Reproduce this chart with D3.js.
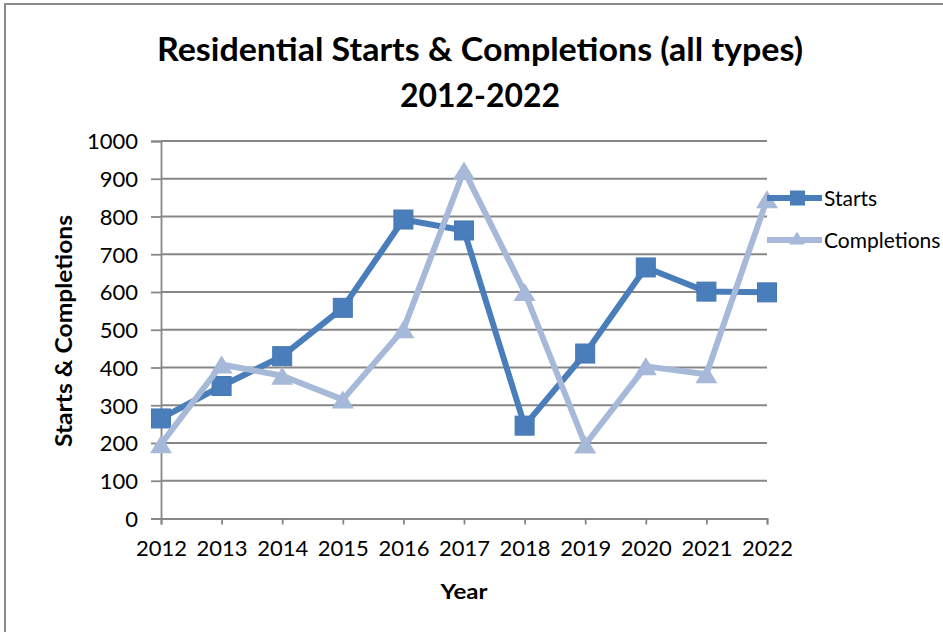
<!DOCTYPE html>
<html>
<head>
<meta charset="utf-8">
<script src="https://cdn.jsdelivr.net/npm/d3@7"></script>
<style>
  html, body { margin: 0; padding: 0; background: #fff; }
  svg { display: block; }
  text { font-family: Lato, "Open Sans", sans-serif; fill: #000; }
</style>
</head>
<body>
<svg id="chart" width="943" height="632"></svg>
<script>
const years = ["2012","2013","2014","2015","2016","2017","2018","2019","2020","2021","2022"];
const starts = [265, 351, 430, 558, 792, 763, 246, 437, 665, 601, 599];
const completions = [197, 408, 378, 315, 501, 922, 600, 196, 403, 382, 846];
const yTicks = [0,100,200,300,400,500,600,700,800,900,1000];
const titleLines = ["Residential Starts & Completions (all types)", "2012-2022"];
const seriesNames = ["Starts", "Completions"];

const svg = d3.select("#chart");
const W = 943, H = 632;
const plot = {left: 161, right: 767, top: 141, bottom: 518.5};
const cStarts = "#4a7ebb", cComp = "#a7b9d9", cGrid = "#878787";

svg.append("rect").attr("x", 0).attr("y", 0).attr("width", W).attr("height", H).attr("fill", "#fff");
svg.append("rect").attr("x", 5).attr("y", 4).attr("width", W + 20).attr("height", H + 20)
  .attr("fill", "none").attr("stroke", "#8a8a8a").attr("stroke-width", 2);

const x = d3.scalePoint().domain(years).range([plot.left, plot.right]).padding(0);
const y = d3.scaleLinear().domain([0, 1000]).range([plot.bottom, plot.top]);

function fit(sel, w) {
  sel.each(function() {
    const len = this.getComputedTextLength();
    if (Math.abs(len - w) / w > 0.02) {
      d3.select(this).attr("textLength", w).attr("lengthAdjust", "spacingAndGlyphs");
    }
  });
}

// gridlines
svg.append("g").selectAll("line").data(yTicks.filter(d => d > 0)).join("line")
  .attr("x1", plot.left).attr("x2", plot.right)
  .attr("y1", d => y(d)).attr("y2", d => y(d))
  .attr("stroke", cGrid).attr("stroke-width", 1.8);

// y axis
const yAxis = svg.append("g").attr("transform", `translate(${plot.left},0)`)
  .call(d3.axisLeft(y).tickValues(yTicks).tickSize(10).tickPadding(13).tickFormat(d3.format("d")));
yAxis.select(".domain").attr("stroke", cGrid).attr("stroke-width", 1.8);
yAxis.selectAll(".tick line").attr("stroke", cGrid).attr("stroke-width", 1.8);
yAxis.selectAll(".tick text").attr("font-size", 22).attr("font-family", "Lato").attr("fill", "#000").attr("dy", "0.36em");

// x axis
const xAxis = svg.append("g").attr("transform", `translate(0,${plot.bottom})`)
  .call(d3.axisBottom(x).tickSize(6).tickPadding(16));
xAxis.select(".domain").attr("stroke", cGrid).attr("stroke-width", 1.8);
xAxis.selectAll(".tick line").attr("stroke", cGrid).attr("stroke-width", 1.8);
xAxis.selectAll(".tick text").attr("font-size", 22).attr("font-family", "Lato").attr("fill", "#000");

// title
const title = svg.append("g");
title.append("text").attr("x", 480).attr("y", 61).attr("text-anchor", "middle")
  .attr("font-size", 33).attr("font-weight", "bold").text(titleLines[0]).call(fit, 646);
title.append("text").attr("x", 480).attr("y", 107).attr("text-anchor", "middle")
  .attr("font-size", 33).attr("font-weight", "bold").text(titleLines[1]).call(fit, 160);

// axis titles
svg.append("text").attr("x", 464).attr("y", 599).attr("text-anchor", "middle")
  .attr("font-size", 21).attr("font-weight", "bold").text("Year").call(fit, 47);
svg.append("text").attr("transform", "translate(72,331) rotate(-90)").attr("text-anchor", "middle")
  .attr("font-size", 22).attr("font-weight", "bold").text("Starts & Completions").call(fit, 232);

// lines
const line = d3.line().x((d, i) => x(years[i])).y(d => y(d));
const sq = 19, triW = 22, triH = 18;
function triPath(cx, cy, w, h) {
  return `M${cx},${cy - h / 2}L${cx + w / 2},${cy + h / 2}L${cx - w / 2},${cy + h / 2}Z`;
}

svg.append("path").datum(starts).attr("d", line).attr("fill", "none")
  .attr("stroke", cStarts).attr("stroke-width", 6).attr("stroke-linejoin", "round");
svg.append("g").selectAll("rect").data(starts).join("rect")
  .attr("x", (d, i) => x(years[i]) - sq / 2).attr("y", d => y(d) - sq / 2)
  .attr("width", sq).attr("height", sq).attr("fill", cStarts).attr("stroke", "#4577b3").attr("stroke-width", 1);

svg.append("path").datum(completions).attr("d", line).attr("fill", "none")
  .attr("stroke", cComp).attr("stroke-width", 6).attr("stroke-linejoin", "round");
svg.append("g").selectAll("path").data(completions).join("path")
  .attr("d", (d, i) => triPath(x(years[i]), y(d), triW, triH)).attr("fill", cComp);

// legend
const lg = svg.append("g");
const legY = [198, 240];
lg.append("line").attr("x1", 767).attr("x2", 822).attr("y1", legY[0]).attr("y2", legY[0])
  .attr("stroke", cStarts).attr("stroke-width", 6);
lg.append("rect").attr("x", 790).attr("y", legY[0] - 7.5).attr("width", 15).attr("height", 15).attr("fill", cStarts);
lg.append("line").attr("x1", 767).attr("x2", 822).attr("y1", legY[1]).attr("y2", legY[1])
  .attr("stroke", cComp).attr("stroke-width", 6);
lg.append("path").attr("d", triPath(797, legY[1] - 2, 16, 13)).attr("fill", cComp);
lg.selectAll("text.leg").data(seriesNames).join("text").attr("class", "leg")
  .attr("x", 824).attr("y", (d, i) => legY[i]).attr("dy", "0.36em")
  .attr("font-size", 21).text(d => d);
</script>
</body>
</html>
